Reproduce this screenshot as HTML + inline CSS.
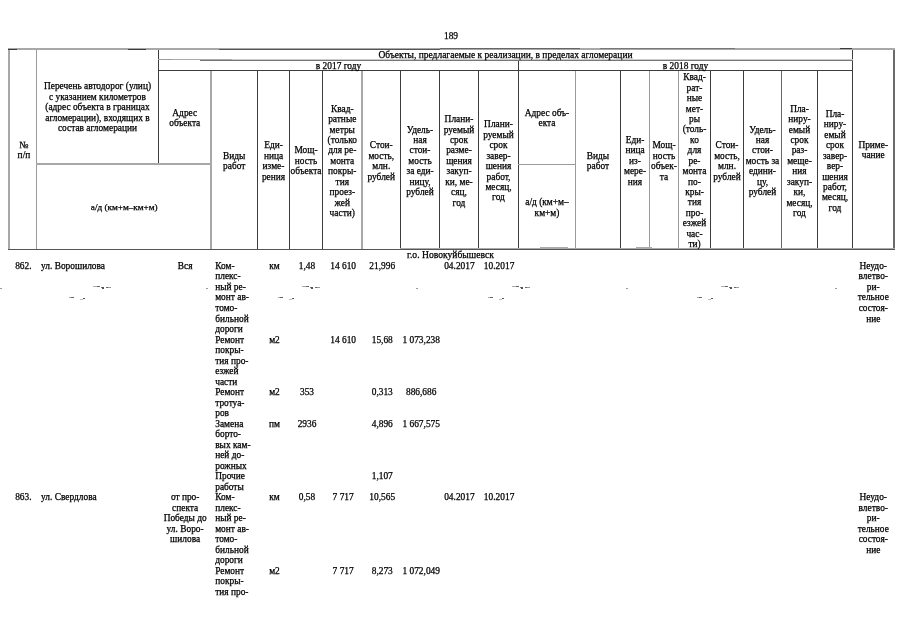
<!DOCTYPE html>
<html lang="ru"><head><meta charset="utf-8"><title>189</title>
<style>
html,body{margin:0;padding:0;background:#fff;}
#p{position:relative;width:905px;height:640px;overflow:hidden;background:#fff;font-family:"Liberation Serif",serif;font-size:9.4px;line-height:10.51px;color:#000;}
.l{position:absolute;}
.t{position:absolute;white-space:nowrap;-webkit-text-stroke:0.25px #000;}
</style></head><body><div id="p">
<div class="l" style="left:8px;top:48px;width:2px;height:202px;background:#a8a8a8"></div>
<div class="l" style="left:36px;top:49px;width:1px;height:201px;background:#9a9a9a"></div>
<div class="l" style="left:158px;top:49px;width:1px;height:115px;background:#3c3c3c"></div>
<div class="l" style="left:210px;top:70px;width:2px;height:180px;background:#a8a8a8"></div>
<div class="l" style="left:257px;top:70px;width:1px;height:180px;background:#3c3c3c"></div>
<div class="l" style="left:289px;top:70px;width:1px;height:180px;background:#3c3c3c"></div>
<div class="l" style="left:322px;top:70px;width:1px;height:180px;background:#3c3c3c"></div>
<div class="l" style="left:361px;top:70px;width:2px;height:180px;background:#a8a8a8"></div>
<div class="l" style="left:400px;top:70px;width:1px;height:179px;background:#3c3c3c"></div>
<div class="l" style="left:439px;top:70px;width:1px;height:179px;background:#3c3c3c"></div>
<div class="l" style="left:478px;top:70px;width:1px;height:179px;background:#3c3c3c"></div>
<div class="l" style="left:518px;top:59px;width:1px;height:190px;background:#3c3c3c"></div>
<div class="l" style="left:575px;top:70px;width:1px;height:179px;background:#9a9a9a"></div>
<div class="l" style="left:620px;top:70px;width:1px;height:179px;background:#3c3c3c"></div>
<div class="l" style="left:649px;top:70px;width:1px;height:179px;background:#9a9a9a"></div>
<div class="l" style="left:678px;top:70px;width:1px;height:179px;background:#9a9a9a"></div>
<div class="l" style="left:710px;top:70px;width:1px;height:179px;background:#3c3c3c"></div>
<div class="l" style="left:743px;top:70px;width:1px;height:179px;background:#3c3c3c"></div>
<div class="l" style="left:781px;top:70px;width:1px;height:179px;background:#666"></div>
<div class="l" style="left:817px;top:70px;width:1px;height:179px;background:#3c3c3c"></div>
<div class="l" style="left:852px;top:49px;width:1px;height:200px;background:#3c3c3c"></div>
<div class="l" style="left:893px;top:48px;width:2px;height:202px;background:#6a6a6a"></div>
<div class="l" style="left:8px;top:48px;width:887px;height:2px;background:#a8a8a8"></div>
<div class="l" style="left:8px;top:49px;width:9px;height:1px;background:#3c3c3c"></div>
<div class="l" style="left:128px;top:49px;width:18px;height:1px;background:#3c3c3c"></div>
<div class="l" style="left:219px;top:49px;width:221px;height:1px;background:#555"></div>
<div class="l" style="left:440px;top:48px;width:140px;height:1px;background:#666"></div>
<div class="l" style="left:600px;top:48px;width:135px;height:1px;background:#777"></div>
<div class="l" style="left:840px;top:48px;width:12px;height:1px;background:#3c3c3c"></div>
<div class="l" style="left:158px;top:59px;width:60px;height:1px;background:#9a9a9a"></div>
<div class="l" style="left:200px;top:60px;width:653px;height:1px;background:#777"></div>
<div class="l" style="left:218px;top:59px;width:635px;height:1px;background:#ccc"></div>
<div class="l" style="left:158px;top:70px;width:695px;height:1px;background:#3c3c3c"></div>
<div class="l" style="left:36px;top:163px;width:175px;height:2px;background:#a8a8a8"></div>
<div class="l" style="left:518px;top:164px;width:58px;height:1px;background:#9a9a9a"></div>
<div class="l" style="left:8px;top:249px;width:887px;height:1px;background:#555"></div>
<div class="l" style="left:400px;top:248px;width:495px;height:1px;background:#aaa"></div>
<div class="l" style="left:93px;top:286px;width:4px;height:1px;background:#aaa"></div>
<div class="l" style="left:97px;top:286px;width:3px;height:1px;background:#666"></div>
<div class="l" style="left:101px;top:287px;width:2px;height:1px;background:#777"></div>
<div class="l" style="left:102px;top:287px;width:2px;height:2px;background:#555"></div>
<div class="l" style="left:106px;top:287px;width:2px;height:1px;background:#666"></div>
<div class="l" style="left:108px;top:287px;width:3px;height:1px;background:#999"></div>
<div class="l" style="left:69px;top:297px;width:2px;height:1px;background:#aaa"></div>
<div class="l" style="left:71px;top:297px;width:3px;height:1px;background:#666"></div>
<div class="l" style="left:80px;top:299px;width:3px;height:1px;background:#bbb"></div>
<div class="l" style="left:83px;top:298px;width:2px;height:1px;background:#555"></div>
<div class="l" style="left:302px;top:286px;width:4px;height:1px;background:#aaa"></div>
<div class="l" style="left:306px;top:286px;width:3px;height:1px;background:#666"></div>
<div class="l" style="left:310px;top:287px;width:2px;height:1px;background:#777"></div>
<div class="l" style="left:311px;top:287px;width:2px;height:2px;background:#555"></div>
<div class="l" style="left:315px;top:287px;width:2px;height:1px;background:#666"></div>
<div class="l" style="left:317px;top:287px;width:3px;height:1px;background:#999"></div>
<div class="l" style="left:278px;top:297px;width:2px;height:1px;background:#aaa"></div>
<div class="l" style="left:280px;top:297px;width:3px;height:1px;background:#666"></div>
<div class="l" style="left:289px;top:299px;width:3px;height:1px;background:#bbb"></div>
<div class="l" style="left:292px;top:298px;width:2px;height:1px;background:#555"></div>
<div class="l" style="left:512px;top:286px;width:4px;height:1px;background:#aaa"></div>
<div class="l" style="left:516px;top:286px;width:3px;height:1px;background:#666"></div>
<div class="l" style="left:520px;top:287px;width:2px;height:1px;background:#777"></div>
<div class="l" style="left:521px;top:287px;width:2px;height:2px;background:#555"></div>
<div class="l" style="left:525px;top:287px;width:2px;height:1px;background:#666"></div>
<div class="l" style="left:527px;top:287px;width:3px;height:1px;background:#999"></div>
<div class="l" style="left:488px;top:297px;width:2px;height:1px;background:#aaa"></div>
<div class="l" style="left:490px;top:297px;width:3px;height:1px;background:#666"></div>
<div class="l" style="left:499px;top:299px;width:3px;height:1px;background:#bbb"></div>
<div class="l" style="left:502px;top:298px;width:2px;height:1px;background:#555"></div>
<div class="l" style="left:721px;top:286px;width:4px;height:1px;background:#aaa"></div>
<div class="l" style="left:725px;top:286px;width:3px;height:1px;background:#666"></div>
<div class="l" style="left:729px;top:287px;width:2px;height:1px;background:#777"></div>
<div class="l" style="left:730px;top:287px;width:2px;height:2px;background:#555"></div>
<div class="l" style="left:734px;top:287px;width:2px;height:1px;background:#666"></div>
<div class="l" style="left:736px;top:287px;width:3px;height:1px;background:#999"></div>
<div class="l" style="left:697px;top:297px;width:2px;height:1px;background:#aaa"></div>
<div class="l" style="left:699px;top:297px;width:3px;height:1px;background:#666"></div>
<div class="l" style="left:708px;top:299px;width:3px;height:1px;background:#bbb"></div>
<div class="l" style="left:711px;top:298px;width:2px;height:1px;background:#555"></div>
<div class="l" style="left:0px;top:288px;width:2px;height:1px;background:#999"></div>
<div class="l" style="left:206px;top:288px;width:2px;height:1px;background:#999"></div>
<div class="l" style="left:416px;top:288px;width:2px;height:1px;background:#999"></div>
<div class="l" style="left:626px;top:288px;width:2px;height:1px;background:#999"></div>
<div class="l" style="left:835px;top:288px;width:2px;height:1px;background:#999"></div>
<div class="l" style="left:540px;top:247px;width:28px;height:1px;background:#aaa"></div>
<div class="l" style="left:636px;top:247px;width:16px;height:1px;background:#aaa"></div>
<div class="l" style="left:172px;top:59px;width:60px;height:1px;background:#aaa"></div>
<div class="t" style="left:430.0px;top:31.19px;width:42.0px;text-align:center;line-height:10.42px;">189</div>
<div class="t" style="left:10.2px;top:139.53px;width:27.5px;text-align:center;line-height:10.42px;">№<br>п/п</div>
<div class="t" style="left:36.5px;top:81.25px;width:122.0px;text-align:center;line-height:10.42px;">Перечень автодорог (улиц)<br>с указанием километров<br>(адрес объекта в границах<br>агломерации), входящих в<br>состав агломерации</div>
<div class="t" style="left:37.0px;top:201.84px;width:174.5px;text-align:center;font-size:9.2px;line-height:10.42px;">а/д (км+м–км+м)</div>
<div class="t" style="left:158.5px;top:49.84px;width:694.0px;text-align:center;font-size:9.48px;line-height:10.42px;">Объекты, предлагаемые к реализации, в пределах агломерации</div>
<div class="t" style="left:158.5px;top:60.79px;width:360.0px;text-align:center;line-height:10.42px;">в 2017 году</div>
<div class="t" style="left:518.5px;top:60.79px;width:334.0px;text-align:center;line-height:10.42px;">в 2018 году</div>
<div class="t" style="left:158.5px;top:107.73px;width:52.5px;text-align:center;line-height:10.42px;">Адрес<br>объекта</div>
<div class="t" style="left:211.0px;top:150.68px;width:46.5px;text-align:center;line-height:10.42px;">Виды<br>работ</div>
<div class="t" style="left:257.5px;top:140.26px;width:32.0px;text-align:center;line-height:10.42px;">Еди-<br>ница<br>изме-<br>рения</div>
<div class="t" style="left:289.5px;top:145.47px;width:33.0px;text-align:center;line-height:10.42px;">Мощ-<br>ность<br>объекта</div>
<div class="t" style="left:322.5px;top:103.79px;width:39.5px;text-align:center;line-height:10.42px;">Квад-<br>ратные<br>метры<br>(только<br>для ре-<br>монта<br>покры-<br>тия<br>проез-<br>жей<br>части)</div>
<div class="t" style="left:362.0px;top:140.26px;width:38.5px;text-align:center;line-height:10.42px;">Стои-<br>мость,<br>млн.<br>рублей</div>
<div class="t" style="left:400.5px;top:124.63px;width:39.0px;text-align:center;line-height:10.42px;">Удель-<br>ная<br>стои-<br>мость<br>за еди-<br>ницу,<br>рублей</div>
<div class="t" style="left:439.5px;top:114.21px;width:39.0px;text-align:center;line-height:10.42px;">Плани-<br>руемый<br>срок<br>разме-<br>щения<br>закуп-<br>ки, ме-<br>сяц,<br>год</div>
<div class="t" style="left:478.5px;top:119.42px;width:40.0px;text-align:center;line-height:10.42px;">Плани-<br>руемый<br>срок<br>завер-<br>шения<br>работ,<br>месяц,<br>год</div>
<div class="t" style="left:518.5px;top:107.73px;width:57.0px;text-align:center;line-height:10.42px;">Адрес объ-<br>екта</div>
<div class="t" style="left:518.5px;top:197.33px;width:57.0px;text-align:center;line-height:10.42px;">а/д (км+м–<br>км+м)</div>
<div class="t" style="left:575.5px;top:150.68px;width:45.0px;text-align:center;line-height:10.42px;">Виды<br>работ</div>
<div class="t" style="left:620.5px;top:135.05px;width:29.0px;text-align:center;line-height:10.42px;">Еди-<br>ница<br>из-<br>мере-<br>ния</div>
<div class="t" style="left:649.5px;top:140.26px;width:29.0px;text-align:center;line-height:10.42px;">Мощ-<br>ность<br>объек-<br>та</div>
<div class="t" style="left:678.5px;top:72.33px;width:32.0px;text-align:center;line-height:10.42px;">Квад-<br>рат-<br>ные<br>мет-<br>ры<br>(толь-<br>ко<br>для<br>ре-<br>монта<br>по-<br>кры-<br>тия<br>про-<br>езжей<br>час-<br>ти)</div>
<div class="t" style="left:710.5px;top:140.26px;width:33.0px;text-align:center;line-height:10.42px;">Стои-<br>мость,<br>млн.<br>рублей</div>
<div class="t" style="left:743.5px;top:124.63px;width:38.0px;text-align:center;line-height:10.42px;">Удель-<br>ная<br>стои-<br>мость за<br>едини-<br>цу,<br>рублей</div>
<div class="t" style="left:781.5px;top:103.79px;width:36.0px;text-align:center;line-height:10.42px;">Пла-<br>ниру-<br>емый<br>срок<br>раз-<br>меще-<br>ния<br>закуп-<br>ки,<br>месяц,<br>год</div>
<div class="t" style="left:817.5px;top:109.00px;width:35.0px;text-align:center;line-height:10.42px;">Пла-<br>ниру-<br>емый<br>срок<br>завер-<br>вер-<br>шения<br>работ,<br>месяц,<br>год</div>
<div class="t" style="left:852.5px;top:139.53px;width:41.5px;text-align:center;line-height:10.42px;">Приме-<br>чание</div>
<div class="t" style="left:380.0px;top:250.19px;width:141.0px;text-align:center;font-size:9.62px;line-height:10.42px;">г.о. Новокуйбышевск</div>
<div class="t" style="left:9.6px;top:260.94px;width:27.5px;text-align:center;">862.</div>
<div class="t" style="left:41.0px;top:260.94px;width:118.0px;text-align:left;">ул. Ворошилова</div>
<div class="t" style="left:158.9px;top:260.94px;width:52.5px;text-align:center;">Вся</div>
<div class="t" style="left:215.2px;top:260.95px;width:42.3px;text-align:left;">Ком-<br>плекс-<br>ный ре-<br>монт ав-<br>томо-<br>бильной<br>дороги</div>
<div class="t" style="left:258.5px;top:260.94px;width:32.0px;text-align:center;">км</div>
<div class="t" style="left:290.5px;top:260.94px;width:33.0px;text-align:center;">1,48</div>
<div class="t" style="left:323.4px;top:260.94px;width:39.5px;text-align:center;">14 610</div>
<div class="t" style="left:363.0px;top:260.94px;width:38.5px;text-align:center;">21,996</div>
<div class="t" style="left:439.9px;top:260.94px;width:39.0px;text-align:center;">04.2017</div>
<div class="t" style="left:479.1px;top:260.94px;width:40.0px;text-align:center;">10.2017</div>
<div class="t" style="left:852.5px;top:260.94px;width:41.5px;text-align:center;">Неудо-<br>влетво-<br>ри-<br>тельное<br>состоя-<br>ние</div>
<div class="t" style="left:215.2px;top:334.51px;width:42.3px;text-align:left;">Ремонт<br>покры-<br>тия про-<br>езжей<br>части</div>
<div class="t" style="left:258.5px;top:334.51px;width:32.0px;text-align:center;">м2</div>
<div class="t" style="left:323.4px;top:334.51px;width:39.5px;text-align:center;">14 610</div>
<div class="t" style="left:363.0px;top:334.51px;width:38.5px;text-align:center;">15,68</div>
<div class="t" style="left:401.7px;top:334.51px;width:39.0px;text-align:center;">1 073,238</div>
<div class="t" style="left:215.2px;top:387.06px;width:42.3px;text-align:left;">Ремонт<br>тротуа-<br>ров</div>
<div class="t" style="left:258.5px;top:387.06px;width:32.0px;text-align:center;">м2</div>
<div class="t" style="left:290.5px;top:387.06px;width:33.0px;text-align:center;">353</div>
<div class="t" style="left:363.0px;top:387.06px;width:38.5px;text-align:center;">0,313</div>
<div class="t" style="left:401.7px;top:387.06px;width:39.0px;text-align:center;">886,686</div>
<div class="t" style="left:215.2px;top:418.60px;width:42.3px;text-align:left;">Замена<br>борто-<br>вых кам-<br>ней до-<br>рожных</div>
<div class="t" style="left:258.5px;top:418.60px;width:32.0px;text-align:center;">пм</div>
<div class="t" style="left:290.5px;top:418.60px;width:33.0px;text-align:center;">2936</div>
<div class="t" style="left:363.0px;top:418.60px;width:38.5px;text-align:center;">4,896</div>
<div class="t" style="left:401.7px;top:418.60px;width:39.0px;text-align:center;">1 667,575</div>
<div class="t" style="left:215.2px;top:471.14px;width:42.3px;text-align:left;">Прочие<br>работы</div>
<div class="t" style="left:363.0px;top:471.14px;width:38.5px;text-align:center;">1,107</div>
<div class="t" style="left:9.6px;top:492.16px;width:27.5px;text-align:center;">863.</div>
<div class="t" style="left:41.0px;top:492.16px;width:118.0px;text-align:left;">ул. Свердлова</div>
<div class="t" style="left:158.9px;top:492.16px;width:52.5px;text-align:center;">от про-<br>спекта<br>Победы до<br>ул. Воро-<br>шилова</div>
<div class="t" style="left:215.2px;top:492.16px;width:42.3px;text-align:left;">Ком-<br>плекс-<br>ный ре-<br>монт ав-<br>томо-<br>бильной<br>дороги</div>
<div class="t" style="left:258.5px;top:492.16px;width:32.0px;text-align:center;">км</div>
<div class="t" style="left:290.5px;top:492.16px;width:33.0px;text-align:center;">0,58</div>
<div class="t" style="left:323.4px;top:492.16px;width:39.5px;text-align:center;">7 717</div>
<div class="t" style="left:363.0px;top:492.16px;width:38.5px;text-align:center;">10,565</div>
<div class="t" style="left:439.9px;top:492.16px;width:39.0px;text-align:center;">04.2017</div>
<div class="t" style="left:479.1px;top:492.16px;width:40.0px;text-align:center;">10.2017</div>
<div class="t" style="left:852.5px;top:492.16px;width:41.5px;text-align:center;">Неудо-<br>влетво-<br>ри-<br>тельное<br>состоя-<br>ние</div>
<div class="t" style="left:215.2px;top:565.74px;width:42.3px;text-align:left;">Ремонт<br>покры-<br>тия про-</div>
<div class="t" style="left:258.5px;top:565.74px;width:32.0px;text-align:center;">м2</div>
<div class="t" style="left:323.4px;top:565.74px;width:39.5px;text-align:center;">7 717</div>
<div class="t" style="left:363.0px;top:565.74px;width:38.5px;text-align:center;">8,273</div>
<div class="t" style="left:401.7px;top:565.74px;width:39.0px;text-align:center;">1 072,049</div>
</div></body></html>
